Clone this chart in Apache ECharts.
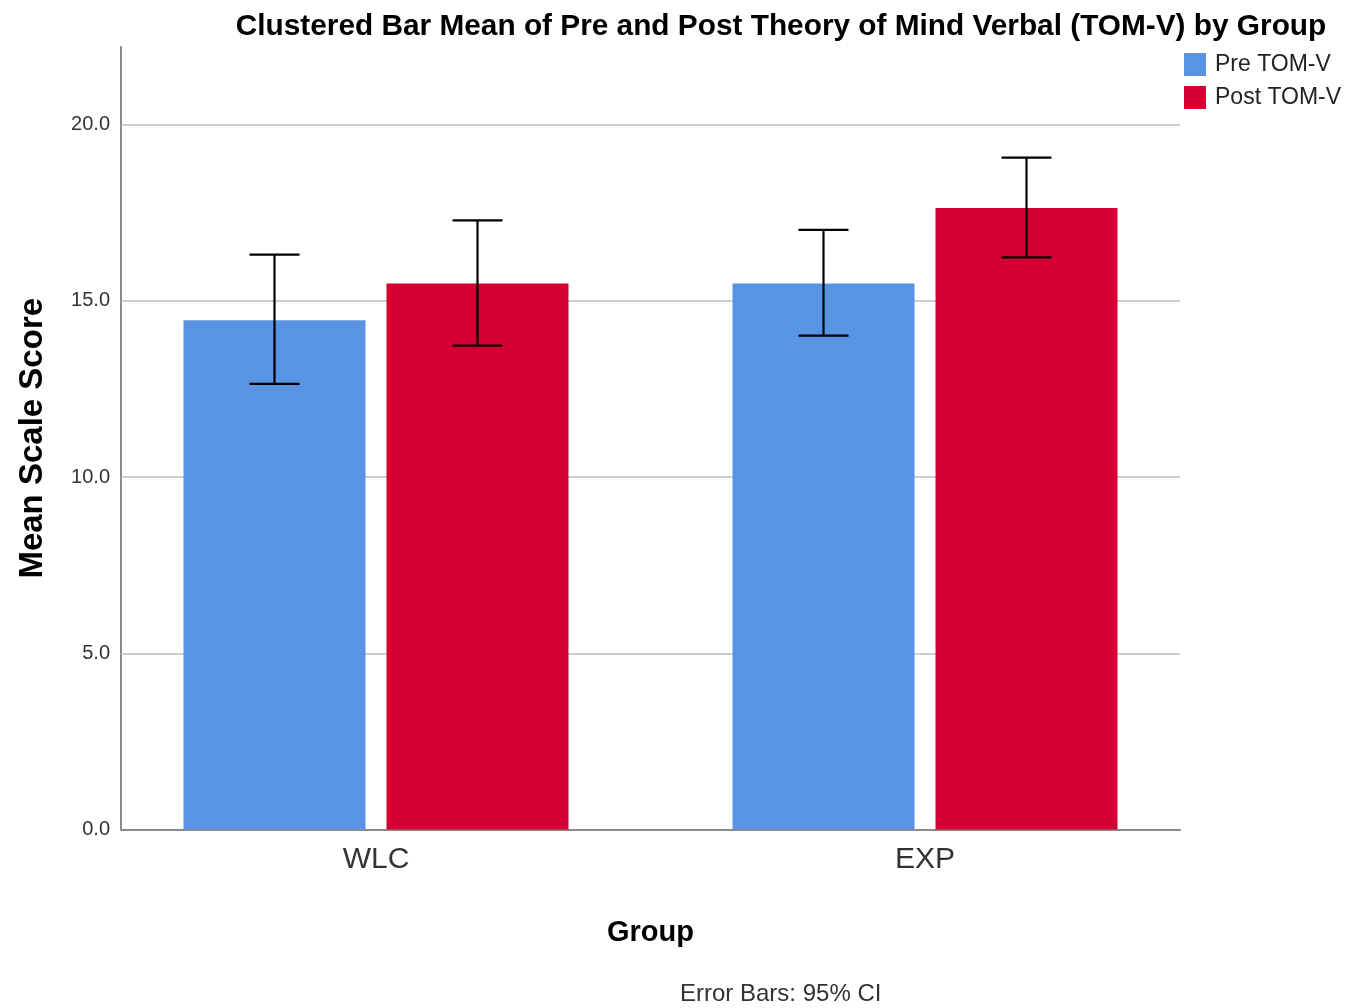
<!DOCTYPE html>
<html>
<head>
<meta charset="utf-8">
<script src="https://cdn.jsdelivr.net/npm/echarts@6/dist/echarts.min.js"></script>
<style>
  html, body { margin: 0; padding: 0; background: #fff; }
  #chart { width: 1353px; height: 1008px; }
</style>
</head>
<body>
<div id="chart"></div>
<script>
// Groups and series
const groups = ['WLC', 'EXP'];
const seriesNames = ['Pre TOM-V', 'Post TOM-V'];
const preMeans = [14.45, 15.49];
const postMeans = [15.49, 17.63];
// 95% confidence intervals [low, high]
const preCI = [[12.64, 16.31], [14.01, 17.01]];
const postCI = [[13.73, 17.28], [16.23, 19.06]];
// Value axis ticks
const yTicks = [0, 5, 10, 15, 20];
const yMax = 22.2;

const colors = ['#5894e1', '#d50032'];
const BAR_W = 182;
const BAR_GAP = 21;
const CAP_W = 50;
const FONT = 'Liberation Sans, Arial, sans-serif';

const chart = echarts.init(document.getElementById('chart'), null, { renderer: 'canvas' });

function errorBarSeries(name, ci, offset) {
  return {
    name: name + ' CI',
    type: 'custom',
    xAxisIndex: 1,
    yAxisIndex: 1,
    silent: true,
    z: 10,
    data: ci.map((c, i) => [i, c[0], c[1]]),
    renderItem: function (params, api) {
      const xc = api.coord([api.value(0), 0])[0] + offset;
      const yLo = api.coord([api.value(0), api.value(1)])[1];
      const yHi = api.coord([api.value(0), api.value(2)])[1];
      const style = { stroke: '#000', lineWidth: 2.2 };
      return {
        type: 'group',
        children: [
          { type: 'line', shape: { x1: xc, y1: yLo, x2: xc, y2: yHi }, style: style },
          { type: 'line', shape: { x1: xc - CAP_W / 2, y1: yHi, x2: xc + CAP_W / 2, y2: yHi }, style: style },
          { type: 'line', shape: { x1: xc - CAP_W / 2, y1: yLo, x2: xc + CAP_W / 2, y2: yLo }, style: style }
        ]
      };
    }
  };
}

const half = (BAR_W + BAR_GAP) / 2;

chart.setOption({
  animation: false,
  backgroundColor: '#fff',
  title: {
    text: 'Clustered Bar Mean of Pre and Post Theory of Mind Verbal (TOM-V) by Group',
    left: 781,
    textAlign: 'center',
    top: 12,
    padding: 0,
    textStyle: { fontFamily: FONT, fontWeight: 'bold', fontSize: 29.8, color: '#000' }
  },
  legend: {
    orient: 'vertical',
    left: 1184,
    top: 53,
    padding: 0,
    itemWidth: 22,
    itemHeight: 23,
    itemGap: 10,
    icon: 'rect',
    data: seriesNames,
    textStyle: { fontFamily: FONT, fontSize: 23, color: '#222', padding: [3, 0, 0, 4] }
  },
  grid: [
    { left: 121, width: 1059, top: 47, height: 782.5, outerBoundsMode: 'none', containLabel: false },
    { left: 101.5, width: 1098, top: 47, height: 782.5, outerBoundsMode: 'none', containLabel: false }
  ],
  xAxis: [
    {
      type: 'value', gridIndex: 0, min: 0, max: 1,
      axisLine: { show: true, onZero: false, lineStyle: { color: '#8a8a8a', width: 2 } },
      axisTick: { show: false }, axisLabel: { show: false }, splitLine: { show: false }
    },
    {
      type: 'category', gridIndex: 1, data: groups,
      axisLine: { show: false }, axisTick: { show: false },
      axisLabel: { fontFamily: FONT, fontSize: 30, color: '#333', margin: 15 },
      name: 'Group', nameLocation: 'middle', nameGap: 89,
      nameTextStyle: { fontFamily: FONT, fontWeight: 'bold', fontSize: 29, color: '#000' }
    }
  ],
  yAxis: [
    {
      type: 'value', gridIndex: 0, min: 0, max: yMax, interval: 5,
      axisLine: { show: true, lineStyle: { color: '#8a8a8a', width: 2 } },
      axisTick: { show: false },
      splitLine: { show: false },
      axisLabel: {
        fontFamily: FONT, fontSize: 20, color: '#333', margin: 11,
        padding: [6, 0, 0, 0],
        showMaxLabel: false,
        formatter: v => (yTicks.indexOf(v) >= 0 ? v.toFixed(1) : '')
      },
      name: 'Mean Scale Score', nameLocation: 'middle', nameGap: 72,
      nameTextStyle: { fontFamily: FONT, fontWeight: 'bold', fontSize: 33, color: '#000' }
    },
    {
      type: 'value', gridIndex: 1, min: 0, max: yMax, show: false
    }
  ],
  series: [
    {
      // reference lines at each tick above zero
      type: 'line', xAxisIndex: 0, yAxisIndex: 0, data: [], silent: true,
      markLine: {
        symbol: 'none', silent: true, label: { show: false },
        lineStyle: { type: 'solid', color: '#bdbdbd', width: 1.5 },
        data: yTicks.filter(t => t > 0).map(t => ({ yAxis: t }))
      }
    },
    {
      name: seriesNames[0], type: 'bar', xAxisIndex: 1, yAxisIndex: 1,
      data: preMeans, barWidth: BAR_W, barGap: (BAR_GAP / BAR_W * 100) + '%',
      itemStyle: { color: colors[0] }, z: 5
    },
    {
      name: seriesNames[1], type: 'bar', xAxisIndex: 1, yAxisIndex: 1,
      data: postMeans, barWidth: BAR_W, barGap: (BAR_GAP / BAR_W * 100) + '%',
      itemStyle: { color: colors[1] }, z: 5
    },
    errorBarSeries(seriesNames[0], preCI, -half),
    errorBarSeries(seriesNames[1], postCI, half)
  ],
  graphic: [
    {
      type: 'text', left: 680, top: 982,
      style: { text: 'Error Bars: 95% CI', fontFamily: FONT, fontSize: 24, fill: '#333' }
    }
  ]
});
</script>
</body>
</html>
